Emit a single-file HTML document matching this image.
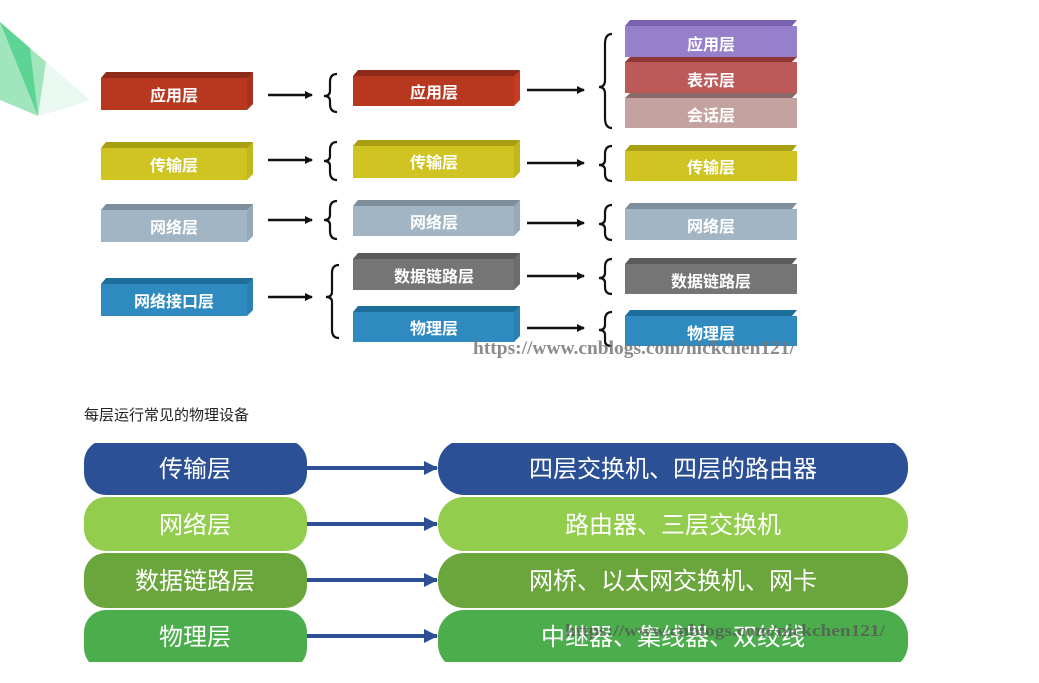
<!DOCTYPE html>
<html><head><meta charset="utf-8"><style>
body{margin:0;background:#fff;}
svg{display:block}
text{font-family:"Liberation Sans","Noto Sans CJK SC",sans-serif;}
text.wm{font-family:"Liberation Serif",serif;}
</style></head><body>
<svg width="1039" height="683" viewBox="0 0 1039 683" xmlns="http://www.w3.org/2000/svg">
<defs>
<marker id="ah" markerWidth="8" markerHeight="8" refX="7" refY="4" orient="auto" markerUnits="userSpaceOnUse"><path d="M0,0 L8,4 L0,8 Z" fill="#111"/></marker>
<marker id="bh" markerWidth="14" markerHeight="14" refX="13" refY="7" orient="auto" markerUnits="userSpaceOnUse"><path d="M0,0 L14,7 L0,14 Z" fill="#2c4f95"/></marker>
</defs>
<polygon points="0,22 46,62 38,116 0,100" fill="#8fe0b0" opacity="0.85"/>
<polygon points="0,22 30,48 38,116" fill="#4ccf88" opacity="0.8"/>
<polygon points="46,62 90,100 60,110 38,116" fill="#e4f8ee" opacity="0.8"/>

<g font-weight="bold" font-size="16" fill="#fff" text-anchor="middle">
<g>
<polygon points="106,72 253,72 248,78 101,78" fill="#8e2a1a"/><polygon points="247,78 253,72 253,104 247,110" fill="#a83220"/><rect x="101" y="78" width="146" height="32" fill="#b8371f"/><text x="174" y="101">应用层</text>
<polygon points="106,142 253,142 248,148 101,148" fill="#a8a012"/><polygon points="247,148 253,142 253,174 247,180" fill="#c0b81a"/><rect x="101" y="148" width="146" height="32" fill="#cfc421"/><text x="174" y="171">传输层</text>
<polygon points="106,204 253,204 248,210 101,210" fill="#7d8e9c"/><polygon points="247,210 253,204 253,236 247,242" fill="#97a9b8"/><rect x="101" y="210" width="146" height="32" fill="#a2b5c4"/><text x="174" y="233">网络层</text>
<polygon points="106,278 253,278 248,284 101,284" fill="#1e6e9c"/><polygon points="247,284 253,278 253,310 247,316" fill="#2a80b0"/><rect x="101" y="284" width="146" height="32" fill="#2f8ac0"/><text x="174" y="307">网络接口层</text>
</g>
<g>
<polygon points="358,70 520,70 515,76 353,76" fill="#8e2a1a"/><polygon points="514,76 520,70 520,100 514,106" fill="#c83a22"/><rect x="353" y="76" width="161" height="30" fill="#b8371f"/><text x="434" y="98">应用层</text>
<polygon points="358,140 520,140 515,146 353,146" fill="#a8a012"/><polygon points="514,146 520,140 520,172 514,178" fill="#c0b81a"/><rect x="353" y="146" width="161" height="32" fill="#cfc421"/><text x="434" y="168">传输层</text>
<polygon points="358,200 520,200 515,206 353,206" fill="#7d8e9c"/><polygon points="514,206 520,200 520,230 514,236" fill="#97a9b8"/><rect x="353" y="206" width="161" height="30" fill="#a2b5c4"/><text x="434" y="228">网络层</text>
<polygon points="358,253 520,253 515,259 353,259" fill="#5a5a5a"/><polygon points="514,259 520,253 520,284 514,290" fill="#6c6c6c"/><rect x="353" y="259" width="161" height="31" fill="#757575"/><text x="434" y="282">数据链路层</text>
<polygon points="358,306 520,306 515,312 353,312" fill="#1e6e9c"/><polygon points="514,312 520,306 520,336 514,342" fill="#2a80b0"/><rect x="353" y="312" width="161" height="30" fill="#2f8ac0"/><text x="434" y="334">物理层</text>
</g>
<g>
<polygon points="630,20 797,20 792,26 625,26" fill="#7a62b0"/><rect x="625" y="26" width="172" height="31" fill="#9680cc"/><text x="711" y="50">应用层</text>
<polygon points="630,57 797,57 792,62 625,62" fill="#903838"/><rect x="625" y="62" width="172" height="31" fill="#bb5a58"/><text x="711" y="86">表示层</text>
<polygon points="630,93 797,93 792,98 625,98" fill="#8a6a6a"/><rect x="625" y="98" width="172" height="30" fill="#c4a2a0"/><text x="711" y="121">会话层</text>
<polygon points="630,145 797,145 792,151 625,151" fill="#a8a012"/><rect x="625" y="151" width="172" height="30" fill="#cfc421"/><text x="711" y="173">传输层</text>
<polygon points="630,203 797,203 792,209 625,209" fill="#7d8e9c"/><rect x="625" y="209" width="172" height="31" fill="#a2b5c4"/><text x="711" y="232">网络层</text>
<polygon points="630,258 797,258 792,264 625,264" fill="#5a5a5a"/><rect x="625" y="264" width="172" height="30" fill="#757575"/><text x="711" y="287">数据链路层</text>
<polygon points="630,310 797,310 792,316 625,316" fill="#1e6e9c"/><rect x="625" y="316" width="172" height="30" fill="#2f8ac0"/><text x="711" y="339">物理层</text>
</g>
</g>
<g stroke="#111" stroke-width="2.5" fill="none" marker-end="url(#ah)">
<line x1="268" y1="95" x2="312" y2="95"/><line x1="268" y1="160" x2="312" y2="160"/><line x1="268" y1="220" x2="312" y2="220"/><line x1="268" y1="297" x2="312" y2="297"/>
<line x1="527" y1="90" x2="584" y2="90"/><line x1="527" y1="163" x2="584" y2="163"/><line x1="527" y1="223" x2="584" y2="223"/><line x1="527" y1="276" x2="584" y2="276"/><line x1="527" y1="328" x2="584" y2="328"/>
</g>
<g fill="none" stroke="#111" stroke-width="2.2">
<path d="M337,74 Q330,74 330,82 L330,91 Q330,96 324,96 Q330,96 330,101 L330,104 Q330,112 337,112"/>
<path d="M337,142 Q330,142 330,150 L330,156 Q330,161 324,161 Q330,161 330,166 L330,172 Q330,180 337,180"/>
<path d="M337,201 Q330,201 330,209 L330,215 Q330,220 324,220 Q330,220 330,225 L330,231 Q330,239 337,239"/>
<path d="M339,265 Q332,265 332,273 L332,292 Q332,297 326,297 Q332,297 332,302 L332,330 Q332,338 339,338"/>
<path d="M612,34 Q605,34 605,44 L605,80 Q605,87 599,87 Q605,87 605,94 L605,118 Q605,128 612,128"/>
<path d="M612,146 Q605,146 605,154 L605,160 Q605,165 599,165 Q605,165 605,170 L605,174 Q605,181 612,181"/>
<path d="M612,205 Q605,205 605,213 L605,219 Q605,224 599,224 Q605,224 605,229 L605,233 Q605,240 612,240"/>
<path d="M612,259 Q605,259 605,267 L605,273 Q605,278 599,278 Q605,278 605,283 L605,287 Q605,294 612,294"/>
<path d="M612,312 Q605,312 605,320 L605,325 Q605,330 599,330 Q605,330 605,335 L605,341 Q605,346 612,346"/>
</g>
<text class="wm" x="473" y="354" font-size="19" font-weight="bold" fill="#777" opacity="0.85" textLength="322" lengthAdjust="spacingAndGlyphs">https://www.cnblogs.com/nickchen121/</text>

<text x="84" y="420" font-size="15" fill="#222">每层运行常见的物理设备</text>

<g font-size="24" fill="#fff" text-anchor="middle">
<rect x="84" y="440" width="223" height="55" rx="22" fill="#2c5096"/>
<rect x="438" y="440" width="470" height="55" rx="26" fill="#2c5096"/>
<rect x="84" y="497" width="223" height="54" rx="22" fill="#92cd4e"/>
<rect x="438" y="497" width="470" height="54" rx="26" fill="#92cd4e"/>
<rect x="84" y="553" width="223" height="55" rx="22" fill="#6aa63c"/>
<rect x="438" y="553" width="470" height="55" rx="26" fill="#6aa63c"/>
<rect x="84" y="610" width="223" height="60" rx="22" fill="#4cad4c"/>
<rect x="438" y="610" width="470" height="60" rx="26" fill="#4cad4c"/>
<rect x="80" y="662" width="840" height="21" fill="#fff"/>
<rect x="80" y="436" width="840" height="7" fill="#fff"/>
<text x="195" y="477">传输层</text><text x="673" y="477">四层交换机、四层的路由器</text>
<text x="195" y="533">网络层</text><text x="673" y="533">路由器、三层交换机</text>
<text x="195" y="589">数据链路层</text><text x="673" y="589">网桥、以太网交换机、网卡</text>
<text x="195" y="645">物理层</text><text x="673" y="645">中继器、集线器、双绞线</text>
</g>
<g stroke="#2c4f95" stroke-width="4" marker-end="url(#bh)">
<line x1="307" y1="468" x2="437" y2="468"/><line x1="307" y1="524" x2="437" y2="524"/><line x1="307" y1="580" x2="437" y2="580"/><line x1="307" y1="636" x2="437" y2="636"/>
</g>
<text class="wm" x="565" y="636" font-size="17" font-weight="bold" fill="#555" opacity="0.75" textLength="320" lengthAdjust="spacingAndGlyphs">https://www.cnblogs.com/nickchen121/</text>
</svg>
</body></html>
